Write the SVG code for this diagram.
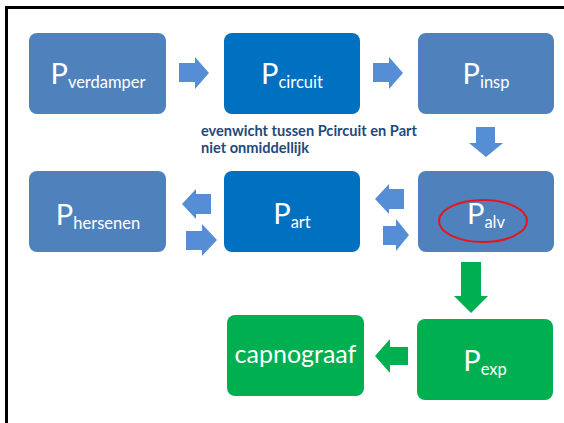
<svg xmlns="http://www.w3.org/2000/svg" width="564" height="423" viewBox="0 0 564 423">
  <style>
    .steel { fill: #4F81BD; }
    .bright { fill: #0070C0; }
    .green { fill: #00B050; }
    .arrow-blue { fill: #558ED5; }
    .arrow-green { fill: #00B050; }
    .lbl { font-family: Lato, "Liberation Sans", sans-serif; fill: #FFFFFF; text-anchor: middle; }
    .big { font-size: 29px; }
    .sub { font-size: 16.5px; }
    .caption { font-family: Lato, "Liberation Sans", sans-serif; font-weight: bold; font-size: 14.6px; fill: #1F497D; }
  </style>

  <rect x="0" y="0" width="564" height="423" fill="#FFFFFF"/>
  <!-- frame lines -->
  <path d="M6.5 423 V7.5 H564" fill="none" stroke="#000000" stroke-width="3"/>

  <g id="connectors">
    <polygon class="arrow-blue" points="179,63 195,63 195,57 209,73 195,89 195,82 179,82"/>
    <polygon class="arrow-blue" points="373,63 389,63 389,57 403,73 389,89 389,82 373,82"/>
    <polygon class="arrow-blue" points="476,127 495,127 495,143 503,143 486,157 469,143 476,143"/>
    <polygon class="arrow-blue" points="404,189 389,189 389,184 375,199 389,214 389,209 404,209"/>
    <polygon class="arrow-blue" points="383,226 396,226 396,219 409,235 396,251 396,245 383,245"/>
    <polygon class="arrow-blue" points="211,194 196,194 196,189 182,204 196,219 196,214 211,214"/>
    <polygon class="arrow-blue" points="186,231 202,231 202,224 217,240 202,256 202,250 186,250"/>
    <polygon class="arrow-green" points="461,262 481,262 481,296 488,296 471,313 454,296 461,296"/>
    <polygon class="arrow-green" points="408,347 390,347 390,339 375,356 390,373 390,365 408,365"/>
  </g>

  <g id="p-verdamper">
    <rect class="steel" x="29" y="33" width="137" height="81" rx="8"/>
    <text class="lbl" x="98" y="84"><tspan class="big">P</tspan><tspan class="sub" dy="4">verdamper</tspan></text>
  </g>
  <g id="p-circuit">
    <rect class="bright" x="224" y="33" width="136" height="81" rx="8"/>
    <text class="lbl" x="292" y="84"><tspan class="big">P</tspan><tspan class="sub" dy="4">circuit</tspan></text>
  </g>
  <g id="p-insp">
    <rect class="steel" x="418" y="33" width="136" height="81" rx="8"/>
    <text class="lbl" x="486" y="84"><tspan class="big">P</tspan><tspan class="sub" dy="4">insp</tspan></text>
  </g>

  <g id="caption">
    <text class="caption" x="201" y="136">evenwicht tussen Pcircuit en Part</text>
    <text class="caption" x="201" y="153">niet onmiddellijk</text>
  </g>

  <g id="p-hersenen">
    <rect class="steel" x="29" y="171" width="137" height="81" rx="8"/>
    <text class="lbl" x="98" y="225"><tspan class="big">P</tspan><tspan class="sub" dy="4">hersenen</tspan></text>
  </g>
  <g id="p-art">
    <rect class="bright" x="224" y="171" width="136" height="81" rx="8"/>
    <text class="lbl" x="292" y="224"><tspan class="big">P</tspan><tspan class="sub" dy="4">art</tspan></text>
  </g>
  <g id="p-alv">
    <rect class="steel" x="418" y="171" width="136" height="81" rx="8"/>
    <text class="lbl" x="486" y="224"><tspan class="big">P</tspan><tspan class="sub" dy="4">alv</tspan></text>
    <ellipse cx="483" cy="221" rx="44" ry="21" fill="none" stroke="#E8141C" stroke-width="2"/>
  </g>

  <g id="capnograaf">
    <rect class="green" x="227" y="315" width="137" height="81" rx="8"/>
    <text class="lbl" x="295.5" y="363" font-size="25">capnograaf</text>
  </g>
  <g id="p-exp">
    <rect class="green" x="417" y="319" width="136" height="81" rx="8"/>
    <text class="lbl" x="485" y="371"><tspan class="big">P</tspan><tspan class="sub" dy="4">exp</tspan></text>
  </g>
</svg>
